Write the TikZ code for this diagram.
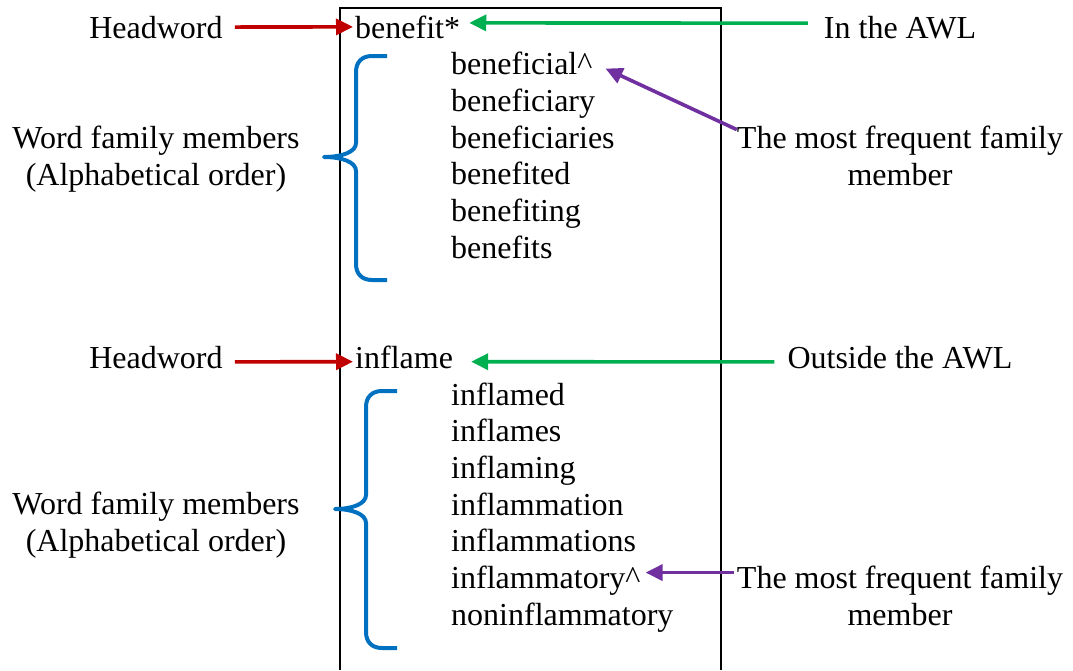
\documentclass[tikz,border=0pt]{standalone}
\usepackage{fontspec}
\setmainfont{Liberation Serif}
\usetikzlibrary{arrows.meta}
\definecolor{hwred}{HTML}{C00000}
\definecolor{awlgreen}{HTML}{00B050}
\definecolor{freqpurple}{HTML}{7030A0}
\definecolor{braceblue}{HTML}{0070C0}

\begin{document}
\begin{tikzpicture}[x=1pt,y=-1pt,>={Triangle[length=17pt,width=16pt]}]
    \tikzstyle{every node}=[inner sep=0pt,font=\rmfamily\fontsize{32}{36.7}\selectfont]
    \tikzstyle{word}=[anchor=base west]
    \tikzstyle{side}=[anchor=base,align=center]
    \tikzstyle{hwarrow}=[->,draw=hwred,fill=hwred,line width=3.6pt]
    \tikzstyle{awlarrow}=[->,draw=awlgreen,fill=awlgreen,line width=3.6pt]
    \tikzstyle{freqarrow}=[->,draw=freqpurple,fill=freqpurple,line width=3.6pt]
    \tikzstyle{brace}=[draw=braceblue,line width=4pt,line join=round]
    \useasboundingbox (0,0) rectangle (1073,670);
    % entry box, open at the bottom
    \draw[line width=1.8pt] (340,670) -- (340,8) -- (721,8) -- (721,670);
    % first entry
    \node[word]    (hw1)    at (355,38)     {benefit*};
    \foreach \w [count=\i] in {beneficial\textasciicircum,beneficiary,beneficiaries,benefited,benefiting,benefits}
        \node[word] (a\i) at (451,{38+36.7*\i}) {\w};
    \node[side]    (head1)  at (156,38)     {Headword};
    \node[side]    (fam1)   at (156,185)    {Word family members\\(Alphabetical order)};
    \node[side]    (awl1)   at (900,38)     {In the AWL};
    \node[side]    (freq1)  at (900,185)    {The most frequent family\\member};
    % second entry
    \node[word]    (hw2)    at (355,368.3)  {inflame};
    \foreach \w [count=\i] in {inflamed,inflames,inflaming,inflammation,inflammations,inflammatory\textasciicircum,noninflammatory}
        \node[word] (b\i) at (451,{368.3+36.7*\i}) {\w};
    \node[side]    (head2)  at (156,368.3)  {Headword};
    \node[side]    (fam2)   at (156,551)    {Word family members\\(Alphabetical order)};
    \node[side]    (awl2)   at (900,368.3)  {Outside the AWL};
    \node[side]    (freq2)  at (900,625)    {The most frequent family\\member};
    % braces
    \draw[brace] (387,56) -- (372,56) .. controls (362,56) and (356,62) .. (356,72) -- (356,143)
        .. controls (356,152) and (342,157) .. (324,157)
        .. controls (342,157) and (356,162) .. (356,171) -- (356,264)
        .. controls (356,274) and (362,280) .. (372,280) -- (387,280);
    \draw[brace] (397,391) -- (382,391) .. controls (372,391) and (366,397) .. (366,407) -- (366,495)
        .. controls (366,504) and (352,509) .. (335,509)
        .. controls (352,509) and (366,514) .. (366,523) -- (366,632)
        .. controls (366,642) and (372,648) .. (382,648) -- (397,648);
    % arrows
    \draw[hwarrow]   ([xshift=12pt]head1.east) -- ([xshift=-2pt]hw1.west);
    \draw[hwarrow]   ([xshift=12pt,yshift=-4.5pt]head2.east) -- ([xshift=-2pt,yshift=-4.5pt]hw2.west);
    \draw[awlarrow]  ([xshift=-16pt,yshift=4pt]awl1.west) -- ([xshift=9pt,yshift=4pt]hw1.east);
    \draw[awlarrow]  ([xshift=-13pt,yshift=-4.5pt]awl2.west) -- ([xshift=18pt,yshift=-4.5pt]hw2.east);
    \draw[freqarrow] ([yshift=-4pt]freq1.north west) -- ([xshift=13pt,yshift=-5pt]a1.east);
    \draw[freqarrow] ([xshift=-3pt,yshift=-7pt]freq2.north west) coordinate (t2) -- ([xshift=5pt]b6.east |- t2);
\end{tikzpicture}
\end{document}
